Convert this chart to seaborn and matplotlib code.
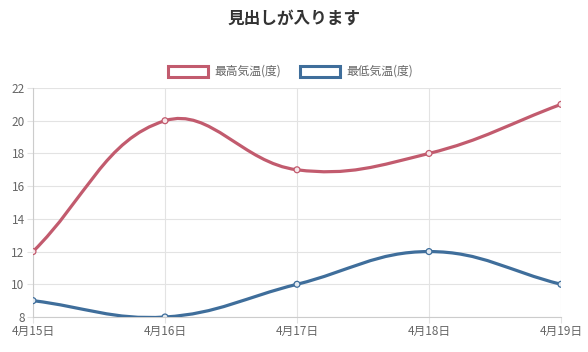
import matplotlib
matplotlib.use('Agg')
import matplotlib.pyplot as plt
from matplotlib.colors import to_rgb
from matplotlib.path import Path
from matplotlib.patches import PathPatch, Rectangle
import numpy as np
import pandas as pd
import seaborn as sns

# データ
days = ['4月15日', '4月16日', '4月17日', '4月18日', '4月19日']
high_temp = [12, 20, 17, 18, 21]
low_temp = [9, 8, 10, 12, 10]
series_names = ['最高気温(度)', '最低気温(度)']
title = '見出しが入ります'
y_ticks = [8, 10, 12, 14, 16, 18, 20, 22]

RED = '#c25b6e'
BLUE = '#3f6e9b'

sns.set_theme(style='white')
plt.rcParams['font.family'] = ['Noto Sans CJK JP', 'DejaVu Sans']

fig = plt.figure(figsize=(5.88, 3.52), dpi=100)
ax = fig.add_axes([33 / 588, 35 / 352, 528 / 588, 229 / 352])

x = np.arange(len(days))
ax.set_xlim(0, len(days) - 1)
ax.set_ylim(8, 22)


def spline_path(xs, ys, tension=0.4):
    # Chart.js風のベジェ曲線 (ピクセル空間で制御点を計算)
    pts = ax.transData.transform(np.column_stack([xs, ys]))
    n = len(pts)
    verts = [pts[0]]
    codes = [Path.MOVETO]
    ctrl = []
    for i in range(n):
        p0 = pts[max(i - 1, 0)]
        p1 = pts[i]
        p2 = pts[min(i + 1, n - 1)]
        d01 = np.hypot(*(p1 - p0))
        d12 = np.hypot(*(p2 - p1))
        tot = d01 + d12
        s01 = d01 / tot if tot else 0
        s12 = d12 / tot if tot else 0
        prev = p1 - tension * s01 * (p2 - p0)
        nxt = p1 + tension * s12 * (p2 - p0)
        ctrl.append((prev, nxt))
    for i in range(1, n):
        verts += [ctrl[i - 1][1], ctrl[i][0], pts[i]]
        codes += [Path.CURVE4] * 3
    verts = ax.transData.inverted().transform(np.array(verts))
    return Path(verts, codes)


df = pd.DataFrame({'day': np.concatenate([x, x]),
                   'temp': high_temp + low_temp,
                   'series': [series_names[0]] * len(x) + [series_names[1]] * len(x)})

for vals, col in [(high_temp, RED), (low_temp, BLUE)]:
    ax.add_patch(PathPatch(spline_path(x, vals), facecolor='none', edgecolor=col,
                           lw=2.3, zorder=3, capstyle='round'))

sns.scatterplot(data=df, x='day', y='temp', hue='series', palette=[RED, BLUE],
                s=18, linewidth=0.9, zorder=4, legend=False, ax=ax)
# 白抜き(うすい色)のマーカー
cols = [RED] * len(x) + [BLUE] * len(x)
tint = [tuple(0.85 + 0.15 * np.array(to_rgb(c))) for c in cols]
ax.collections[-1].set_facecolor(tint)
ax.collections[-1].set_edgecolors(cols)

ax.set_xticks(x)
ax.set_xticklabels(days)
ax.set_yticks(y_ticks)
ax.set_xlabel('')
ax.set_ylabel('')
ax.set_xlim(0, len(days) - 1)
ax.set_ylim(8, 22)
ax.grid(True, color='#e3e3e3', lw=0.8)
for s in ['top', 'right']:
    ax.spines[s].set_visible(False)
for s in ['left', 'bottom']:
    ax.spines[s].set_color('#cccccc')
    ax.spines[s].set_linewidth(0.8)
ax.tick_params(axis='both', length=4, width=0.8, color='#e3e3e3',
               labelsize=8.5, labelcolor='#666666', pad=2)
ax.tick_params(axis='both', which='both', bottom=True, left=True)

fig.text(0.5, 1 - 19 / 352, title, ha='center', va='center', fontsize=12,
         fontweight='bold', color='#333333')

# 凡例
legend_items = [(168 / 588, RED, series_names[0]), (300 / 588, BLUE, series_names[1])]
for lx, col, name in legend_items:
    fig.patches.append(Rectangle((lx, 1 - 77 / 352), 40 / 588, 11 / 352,
                                 transform=fig.transFigure, facecolor='white',
                                 edgecolor=col, lw=2.2))
    fig.text(lx + 46 / 588, 1 - 71.5 / 352, name, ha='left', va='center',
             fontsize=8.5, color='#666666')

fig.savefig('out.png', dpi=100)
